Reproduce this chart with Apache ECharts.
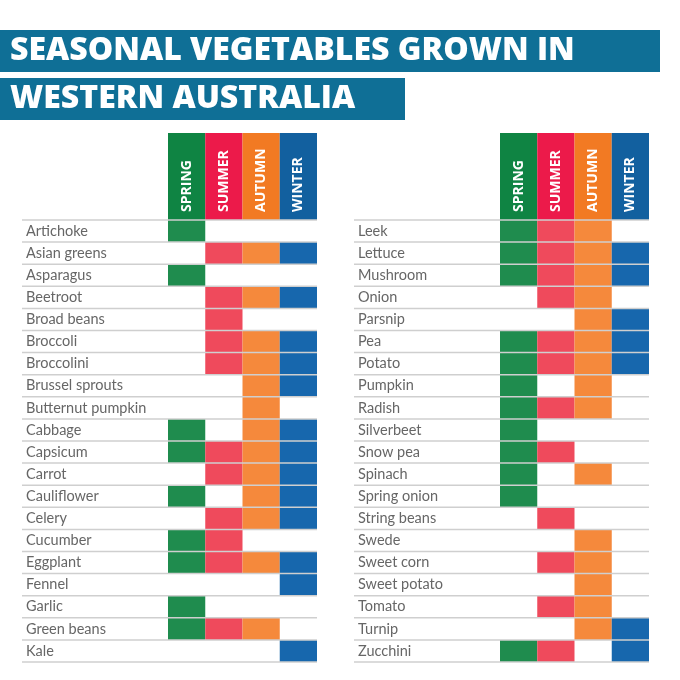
<!DOCTYPE html>
<html lang="en">
<head>
    <meta charset="UTF-8">
    <title>seasonal vegetables</title>
    <script src="https://cdn.jsdelivr.net/npm/echarts@6/dist/echarts.min.js"></script>
    <style>html,body{margin:0;padding:0;background:#fff}</style>
</head>
<body>
    <div id="chart" style="width: 680px; height: 680px;"></div>
    <script>
        var seasons = ["SPRING", "SUMMER", "AUTUMN", "WINTER"]
        var headColors = ["#0f8443", "#ec1a4a", "#f27a23", "#12609f"]
        var cellColors = ["#1f8c4e", "#ef4a5c", "#f5893c", "#1767ad"]

        var leftVeg = ["Artichoke", "Asian greens", "Asparagus", "Beetroot", "Broad beans", "Broccoli",
            "Broccolini", "Brussel sprouts", "Butternut pumpkin", "Cabbage", "Capsicum", "Carrot",
            "Cauliflower", "Celery", "Cucumber", "Eggplant", "Fennel", "Garlic", "Green beans", "Kale"]
        // spring, summer, autumn, winter
        var leftGrown = ["1000", "0111", "1000", "0111", "0100", "0111", "0111", "0011", "0010", "1011",
            "1111", "0111", "1011", "0111", "1100", "1111", "0001", "1000", "1110", "0001"]

        var rightVeg = ["Leek", "Lettuce", "Mushroom", "Onion", "Parsnip", "Pea", "Potato", "Pumpkin",
            "Radish", "Silverbeet", "Snow pea", "Spinach", "Spring onion", "String beans", "Swede",
            "Sweet corn", "Sweet potato", "Tomato", "Turnip", "Zucchini"]
        var rightGrown = ["1110", "1111", "1111", "0110", "0011", "1111", "1111", "1010", "1110", "1000",
            "1100", "1010", "1000", "0100", "0010", "0110", "0010", "0110", "0011", "1101"]

        var LABEL_W = 146

        function cellData(grown) {
            var out = []
            grown.forEach(function (g, r) {
                for (var s = 0; s < 4; s++) if (g[s] === "1") out.push([s, r])
            })
            return out
        }

        function renderCell(params, api) {
            var c = api.coord([api.value(0), api.value(1)])
            var sz = api.size([1, 1])
            return {
                type: "rect",
                shape: { x: c[0] - sz[0] / 2, y: c[1] - sz[1] / 2, width: sz[0], height: sz[1] },
                style: { fill: cellColors[api.value(0)] }
            }
        }

        function renderRowLine(params, api) {
            var c = api.coord([0, api.value(0)])
            var sz = api.size([1, 1])
            var cs = params.coordSys
            var x1 = cs.x - LABEL_W, x2 = cs.x + cs.width
            var y = c[1] + sz[1] / 2
            var children = [{ type: "line", shape: { x1: x1, y1: y, x2: x2, y2: y }, style: { stroke: "#cfcfcf", lineWidth: 1.5 } }]
            if (api.value(0) === 0) {
                var yt = c[1] - sz[1] / 2
                children.push({ type: "line", shape: { x1: x1, y1: yt, x2: x2, y2: yt }, style: { stroke: "#cfcfcf", lineWidth: 1.5 } })
            }
            return { type: "group", children: children }
        }

        function renderHead(params, api) {
            var s = api.value(0)
            var c = api.coord([s, 0])
            var sz = api.size([1, 1])
            return {
                type: "group",
                children: [
                    { type: "rect", shape: { x: c[0] - sz[0] / 2, y: c[1] - sz[1] / 2, width: sz[0], height: sz[1] },
                        style: { fill: headColors[s] } },
                    { type: "text", x: c[0], y: c[1] + sz[1] / 2 - 8, rotation: Math.PI / 2,
                        style: { text: seasons[s], fill: "#fff", font: "bold 14px 'Open Sans'", align: "left", verticalAlign: "middle" } }
                ]
            }
        }

        var tables = [
            { left: 168, veg: leftVeg, grown: leftGrown },
            { left: 500, veg: rightVeg, grown: rightGrown }
        ]

        var grid = [], xAxis = [], yAxis = [], series = []
        tables.forEach(function (t, i) {
            // header grid
            grid.push({ left: t.left, top: 133, width: 149, height: 87 })
            xAxis.push({ type: "category", gridIndex: grid.length - 1, data: seasons, show: false })
            yAxis.push({ type: "category", gridIndex: grid.length - 1, data: ["h"], show: false })
            series.push({ type: "custom", xAxisIndex: xAxis.length - 1, yAxisIndex: yAxis.length - 1,
                data: [[0, 0], [1, 0], [2, 0], [3, 0]], renderItem: renderHead, silent: true })

            // body grid
            grid.push({ left: t.left, top: 220, width: 149, height: 442 })
            xAxis.push({ type: "category", gridIndex: grid.length - 1, data: seasons, show: false })
            yAxis.push({
                type: "category", gridIndex: grid.length - 1, data: t.veg, inverse: true,
                axisLine: { show: false }, axisTick: { show: false }, splitLine: { show: false },
                axisLabel: { align: "left", margin: LABEL_W - 4, color: "#666", fontSize: 14.5, fontFamily: "Lato" }
            })
            series.push({ type: "custom", xAxisIndex: xAxis.length - 1, yAxisIndex: yAxis.length - 1,
                data: cellData(t.grown), renderItem: renderCell, silent: true, z: 2 })
            series.push({ type: "custom", xAxisIndex: xAxis.length - 1, yAxisIndex: yAxis.length - 1,
                data: t.veg.map(function (v, r) { return [r] }), encode: { y: 0 },
                renderItem: renderRowLine, silent: true, z: 3 })
        })

        var chart = echarts.init(document.getElementById("chart"))
        chart.setOption({
            animation: false,
            grid: grid,
            xAxis: xAxis,
            yAxis: yAxis,
            series: series,
            graphic: [
                { type: "rect", shape: { x: 0, y: 30, width: 660, height: 42 }, style: { fill: "#0f6f96" } },
                { type: "text", x: 10, y: 51, style: { text: "SEASONAL VEGETABLES GROWN IN", fill: "#fff",
                    font: "800 32px 'Open Sans'", verticalAlign: "middle" } },
                { type: "rect", shape: { x: 0, y: 78, width: 405, height: 42 }, style: { fill: "#0f6f96" } },
                { type: "text", x: 10, y: 99, style: { text: "WESTERN AUSTRALIA", fill: "#fff",
                    font: "800 32px 'Open Sans'", verticalAlign: "middle" } }
            ]
        })
    </script>
</body>
</html>
